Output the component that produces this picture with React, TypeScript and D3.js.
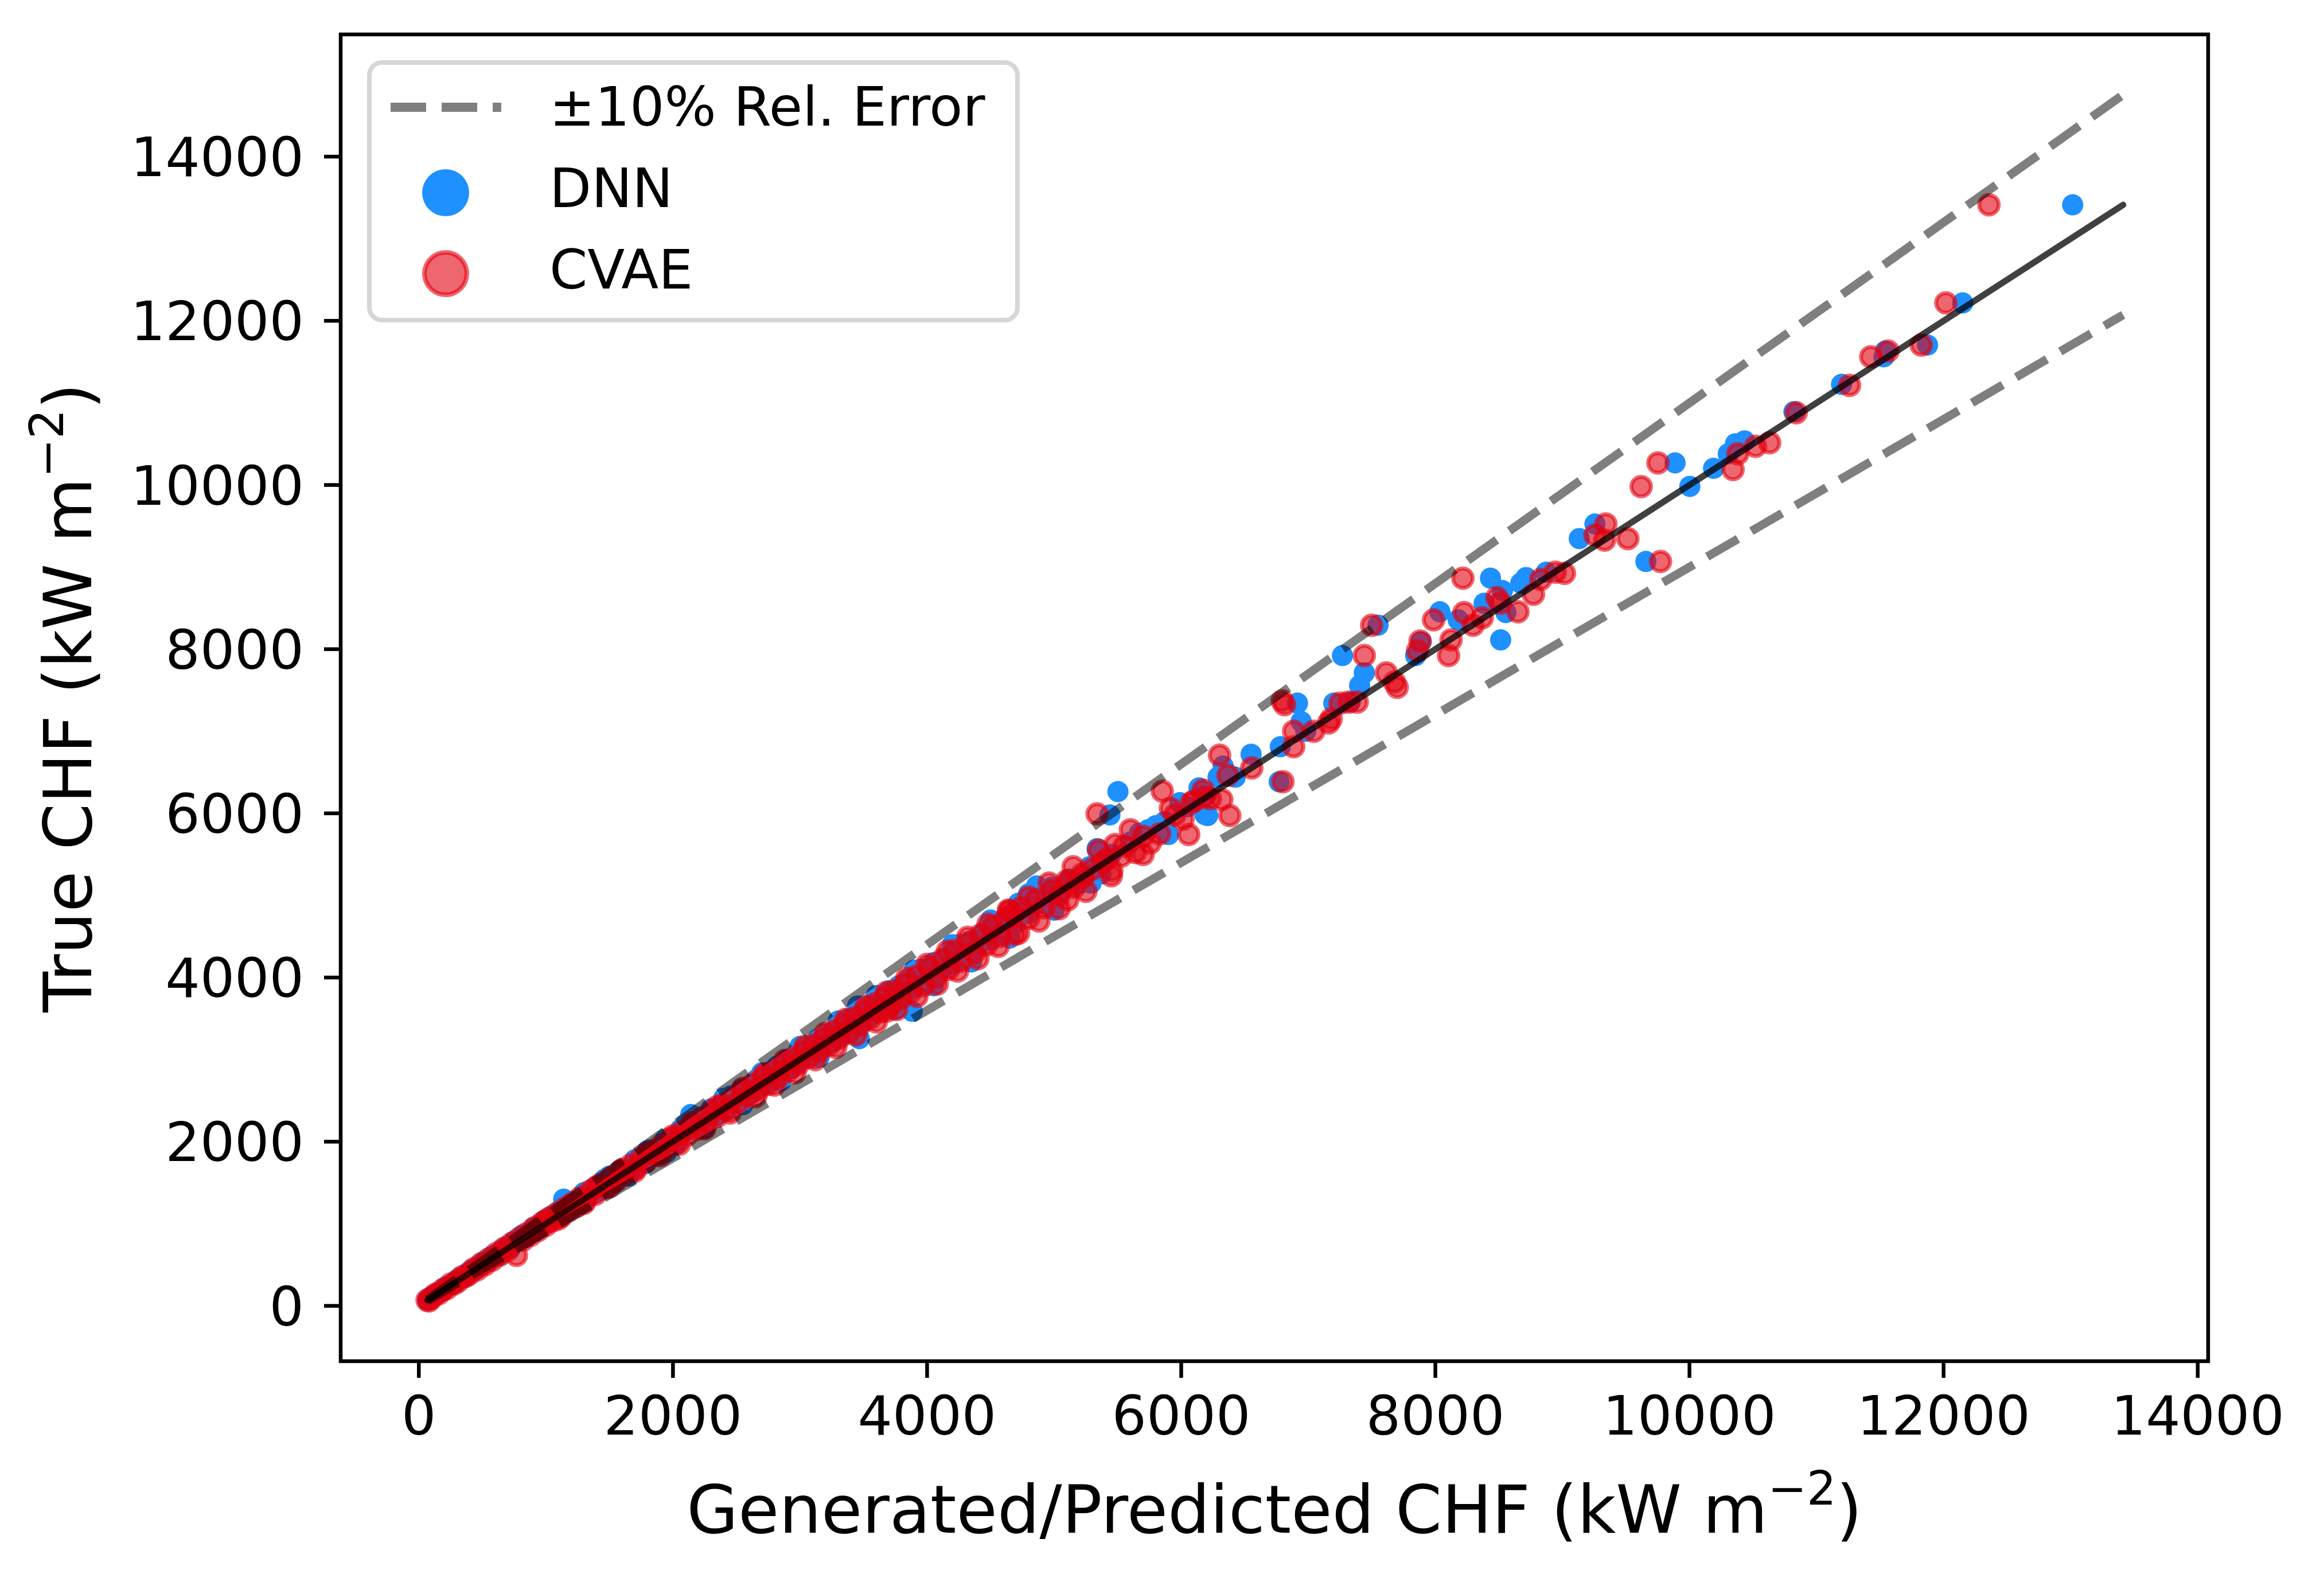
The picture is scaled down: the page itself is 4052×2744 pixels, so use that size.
import React from "react";
import * as d3 from "d3";

// ---------- data ----------
const xTicks = [0, 2000, 4000, 6000, 8000, 10000, 12000, 14000];
const yTicks = [0, 2000, 4000, 6000, 8000, 10000, 12000, 14000];
const refLineEnds = [68, 13413];
const relErrorFactors = [0.9, 1.1];
const legendLabels = ["±10% Rel. Error", "DNN", "CVAE"];

// [predicted, true]
const dnnBand: [number, number][] = [
  [70, 75], [95, 110], [120, 130], [150, 160], [180, 175], [210, 230], [240, 250], [270, 265], [300, 320], [330, 345],
  [360, 350], [390, 410], [420, 440], [450, 445], [480, 500], [510, 540], [540, 530], [570, 600], [600, 620], [630, 610],
  [660, 690], [690, 720], [720, 700], [750, 790], [780, 800], [810, 860], [840, 830], [870, 900], [900, 950], [930, 920],
  [960, 1000], [990, 1040], [1020, 1010], [1050, 1100], [1080, 1090], [1110, 1160], [1140, 1300], [1170, 1150], [1200, 1260], [1230, 1280],
  [1260, 1240], [1300, 1380], [1340, 1330], [1380, 1440], [1420, 1400], [1460, 1540], [1500, 1520], [1540, 1500], [1580, 1650], [1620, 1640],
  [1660, 1620], [1700, 1780], [1740, 1760], [1780, 1730], [1820, 1900], [1860, 1880], [1900, 1850], [1940, 2030], [1980, 2000], [2020, 1960],
  [2060, 2150], [2100, 2120], [2140, 2330], [2180, 2160], [2220, 2300], [2260, 2240], [2300, 2400], [2340, 2320], [2380, 2460], [2420, 2380],
  [2460, 2560], [2500, 2480], [2540, 2640], [2580, 2560], [2620, 2600], [2660, 2760], [2700, 2680], [2740, 2840], [2780, 2750], [2820, 2920],
  [2860, 2830], [2900, 3000], [2940, 2900], [2980, 3080], [3020, 3000], [3060, 3160], [3100, 3060], [3140, 3250], [3180, 3150], [3220, 3320],
  [3260, 3220], [3300, 3400], [3340, 3300], [3380, 3500], [3420, 3380], [3460, 3600], [3500, 3460], [3540, 3660], [3580, 3560], [3620, 3760],
  [3660, 3620], [3700, 3840], [3740, 3700], [3780, 3900], [3820, 3800], [3860, 3980], [3900, 3880], [3950, 4100], [4000, 3960], [4050, 4180],
  [4100, 4080], [4150, 4250], [4200, 4160], [4250, 4400], [4300, 4280], [4350, 4450], [4400, 4380], [4450, 4560], [4500, 4460], [4550, 4650],
  [4600, 4580], [4650, 4760], [4700, 4660], [4750, 4850], [4800, 4780], [4860, 4980], [4920, 4900], [4980, 5100], [5050, 5040], [5120, 5200],
  [5200, 5150], [5280, 5350], [5450, 5500], [5600, 5650], [5800, 5850], [6050, 6080],
  [1500, 1580], [1800, 1890], [2100, 2210], [2400, 2530], [2700, 2840], [3000, 3160], [3300, 3470], [3600, 3780],
  [3900, 4090], [4200, 4400], [4500, 4700], [4800, 5020], [1650, 1580], [1950, 1870], [2250, 2160], [2550, 2450],
  [2850, 2740], [3150, 3030], [3450, 3320], [3750, 3610], [4050, 3900], [4350, 4190], [4650, 4480], [5000, 4820],
];

const dnnSpread: [number, number][] = [
  [3883, 3588], [3467, 3255], [3453, 3653], [4718, 4904], [4862, 5116], [5290, 5150], [5368, 5260], [5338, 5570],
  [5502, 6265], [5439, 5980], [5670, 5758], [5740, 5800], [5870, 5900], [5900, 5742], [5990, 6130], [6140, 6310],
  [6187, 5985], [6200, 6230], [6208, 5973], [6290, 6441], [6330, 6576], [6425, 6441], [6550, 6720], [6771, 6385],
  [6780, 6811], [6915, 7342], [6944, 7118], [6980, 7000], [7201, 7342], [7330, 7355], [7269, 7922], [7404, 7558],
  [7441, 7712], [7549, 8292], [7845, 7922], [7888, 8089], [8036, 8455], [8180, 8357], [8384, 8558], [8434, 8865],
  [8514, 8113], [8528, 8714], [8555, 8446], [8672, 8804], [8714, 8872], [8872, 8937], [9133, 9347], [9256, 9525],
  [9657, 9068], [9887, 10269], [10003, 9983], [10190, 10203], [10305, 10381], [10362, 10502], [10433, 10537], [10822, 10893],
  [11197, 11226], [11530, 11562], [11540, 11630], [11874, 11705], [12150, 12218], [13016, 13413],
];

const cvaeBand: [number, number][] = [
  [65, 70], [80, 60], [100, 95], [130, 140], [160, 150], [190, 200], [220, 210], [250, 265], [280, 270], [310, 300],
  [340, 355], [370, 360], [400, 390], [430, 450], [460, 440], [490, 510], [520, 500], [550, 570], [580, 560], [610, 640],
  [640, 620], [670, 700], [700, 680], [730, 760], [768, 615], [790, 820], [820, 800], [850, 880], [880, 860], [910, 950],
  [940, 920], [970, 1010], [1000, 980], [1030, 1070], [1060, 1040], [1090, 1130], [1120, 1090], [1150, 1190], [1180, 1160], [1210, 1250],
  [1240, 1210], [1270, 1320], [1310, 1290], [1350, 1400], [1390, 1360], [1430, 1480], [1470, 1440], [1510, 1560], [1550, 1520], [1590, 1640],
  [1630, 1600], [1670, 1720], [1710, 1680], [1750, 1800], [1790, 1760], [1830, 1880], [1870, 1840], [1910, 1960], [1950, 1920], [1990, 2040],
  [2030, 2000], [2070, 2120], [2110, 2080], [2150, 2200], [2190, 2150], [2230, 2290], [2270, 2240], [2310, 2370], [2350, 2310], [2390, 2450],
  [2430, 2390], [2470, 2530], [2510, 2470], [2550, 2610], [2590, 2550], [2630, 2700], [2670, 2630], [2710, 2780], [2750, 2700], [2790, 2860],
  [2830, 2790], [2870, 2940], [2910, 2870], [2950, 3020], [2990, 2950], [3030, 3100], [3070, 3030], [3110, 3180], [3150, 3100], [3190, 3260],
  [3230, 3180], [3270, 3350], [3310, 3260], [3350, 3430], [3390, 3340], [3430, 3510], [3470, 3420], [3510, 3590], [3550, 3500], [3590, 3680],
  [3630, 3580], [3670, 3760], [3710, 3660], [3750, 3840], [3790, 3740], [3830, 3920], [3870, 3820], [3920, 4020], [3970, 3900], [4020, 4120],
  [4070, 4000], [4120, 4220], [4170, 4100], [4220, 4330], [4270, 4200], [4320, 4420], [4370, 4300], [4420, 4520], [4470, 4400], [4520, 4620],
  [4570, 4500], [4620, 4720], [4680, 4780], [4740, 4850], [4800, 4720], [4860, 4950], [4920, 4850], [4980, 5060], [5040, 5000], [5100, 5180],
  [5160, 5100], [5220, 5260], [5300, 5320], [5380, 5400], [5420, 5450], [5550, 5600], [5700, 5720], [5950, 5980], [6100, 6150],
  [1000, 1040], [1100, 1060], [1200, 1230], [1300, 1250], [1400, 1450], [1500, 1450], [1600, 1660], [1700, 1640],
  [1800, 1860], [1900, 1830], [2000, 2070], [2050, 1970], [2150, 2230], [2250, 2160], [2350, 2430], [2450, 2350],
  [2550, 2650], [2650, 2550], [2720, 2820], [2800, 2690], [2880, 2990], [2960, 2840], [3040, 3160], [3120, 3000],
  [3200, 3320], [3280, 3150], [3360, 3490], [3440, 3300], [3520, 3650], [3600, 3460], [3680, 3820], [3760, 3610],
  [3840, 3990], [3920, 3770], [4000, 4160], [4080, 3920], [4160, 4320], [4240, 4080], [4320, 4490], [4400, 4230],
  [4480, 4650], [4560, 4380], [4640, 4820], [4720, 4540], [4800, 4980], [4880, 4690], [4960, 5150], [5040, 4840],
  [5150, 5350], [5250, 5050], [5350, 5550], [5450, 5240], [5600, 5800], [5700, 5500],
];

const cvaeSpread: [number, number][] = [
  [3683, 3590], [4646, 4813], [4690, 4523], [5107, 4946], [5120, 5150], [5230, 5220], [5454, 5302], [5480, 5620],
  [5530, 5480], [5338, 5994], [5639, 5523], [5756, 5637], [5830, 5750], [5851, 6270], [5915, 6061], [6014, 5927],
  [6059, 5742], [6080, 6130], [6172, 6283], [6180, 6200], [6230, 6180], [6302, 6709], [6319, 6168], [6368, 6464],
  [6382, 5973], [6555, 6553], [6800, 6385], [6795, 7370], [6813, 7324], [6885, 6811], [6885, 7000], [7043, 7000],
  [7160, 7101], [7180, 7150], [7250, 7342], [7318, 7355], [7385, 7355], [7441, 7922], [7499, 8292], [7614, 7712],
  [7678, 7600], [7700, 7535], [7860, 7980], [7880, 8100], [7986, 8357], [8104, 7922], [8124, 8113], [8217, 8865],
  [8226, 8446], [8297, 8292], [8369, 8383], [8484, 8628], [8510, 8560], [8650, 8455], [8772, 8669], [8830, 8851],
  [8944, 8937], [9016, 8924], [9256, 9391], [9332, 9329], [9342, 9525], [9515, 9347], [9620, 9980], [9752, 10269],
  [9772, 9068], [10343, 10189], [10380, 10381], [10520, 10472], [10631, 10515], [10840, 10880], [11260, 11214],
  [11427, 11562], [11563, 11631], [11824, 11705], [12018, 12218], [12357, 13413],
];

// ---------- layout ----------
const W = 4052;
const H = 2744;
const plot = { left: 594, right: 3850, top: 60, bottom: 2373 };
const FONT = "DejaVu Sans";
const DNN_COLOR = "#1e90ff";
const CVAE_COLOR = "#e2000f";

export default function App() {
  const x = d3.scaleLinear().domain([-615, 14082]).range([plot.left, plot.right]);
  const y = d3.scaleLinear().domain([-674, 15489]).range([plot.bottom, plot.top]);
  const line = d3
    .line<[number, number]>()
    .x((d) => x(d[0]))
    .y((d) => y(d[1]));

  const dnn = [...dnnBand, ...dnnSpread];
  const cvae = [...cvaeBand, ...cvaeSpread];

  const tickFs = 95;
  const labelFs = 116;
  const supShift = labelFs * 0.42;
  const axisW = 6.5;

  const refLine: [number, number][] = refLineEnds.map((v) => [v, v]);

  const legend = { x: 644, y: 109, w: 1130, h: 449 };

  return (
    <svg
      width={W}
      height={H}
      viewBox={`0 0 ${W} ${H}`}
      style={{ position: "absolute", left: 0, top: 0, background: "#fff" }}
      fontFamily={FONT}
    >
      <rect x={0} y={0} width={W} height={H} fill="#fff" />

      {/* scatter */}
      <g>
        {dnn.map((d, i) => (
          <circle key={"d" + i} cx={x(d[0])} cy={y(d[1])} r={18.5} fill={DNN_COLOR} />
        ))}
      </g>
      <g>
        {cvae.map((d, i) => (
          <circle
            key={"c" + i}
            cx={x(d[0])}
            cy={y(d[1])}
            r={17}
            fill={CVAE_COLOR}
            fillOpacity={0.6}
            stroke={CVAE_COLOR}
            strokeOpacity={0.6}
            strokeWidth={7}
          />
        ))}
      </g>

      {/* reference lines */}
      <path d={line(refLine) || ""} fill="none" stroke="#000" strokeOpacity={0.75} strokeWidth={11} strokeLinecap="round" />
      {relErrorFactors.map((f, i) => (
        <path
          key={"r" + i}
          d={line(refLineEnds.map((v) => [v, v * f] as [number, number])) || ""}
          fill="none"
          stroke="#000"
          strokeOpacity={0.5}
          strokeWidth={15}
          strokeDasharray="62 27"
        />
      ))}

      {/* spines */}
      <rect
        x={plot.left}
        y={plot.top}
        width={plot.right - plot.left}
        height={plot.bottom - plot.top}
        fill="none"
        stroke="#000"
        strokeWidth={axisW}
      />

      {/* x ticks */}
      {xTicks.map((t) => (
        <g key={"xt" + t}>
          <line x1={x(t)} x2={x(t)} y1={plot.bottom} y2={plot.bottom + 29} stroke="#000" strokeWidth={axisW} />
          <text x={x(t)} y={2501} fontSize={tickFs} textAnchor="middle" fill="#000">
            {t}
          </text>
        </g>
      ))}
      {/* y ticks */}
      {yTicks.map((t) => (
        <g key={"yt" + t}>
          <line x1={plot.left - 29} x2={plot.left} y1={y(t)} y2={y(t)} stroke="#000" strokeWidth={axisW} />
          <text x={530} y={y(t) + 34} fontSize={tickFs} textAnchor="end" fill="#000">
            {t}
          </text>
        </g>
      ))}

      {/* axis labels */}
      <text x={(plot.left + plot.right) / 2} y={2672} fontSize={labelFs} textAnchor="middle" fill="#000">
        Generated/Predicted CHF (kW m
        <tspan dy={-supShift} fontSize={labelFs * 0.7}>
          −2
        </tspan>
        <tspan dy={supShift}>)</tspan>
      </text>
      <text
        transform={`translate(159, ${(plot.top + plot.bottom) / 2}) rotate(-90)`}
        x={0}
        y={0}
        fontSize={labelFs}
        textAnchor="middle"
        fill="#000"
      >
        True CHF (kW m
        <tspan dy={-supShift} fontSize={labelFs * 0.7}>
          −2
        </tspan>
        <tspan dy={supShift}>)</tspan>
      </text>

      {/* legend */}
      <g>
        <rect
          x={legend.x}
          y={legend.y}
          width={legend.w}
          height={legend.h}
          rx={22}
          ry={22}
          fill="#fff"
          fillOpacity={0.8}
          stroke="#d6d6d6"
          strokeWidth={8}
        />
        <line x1={681} x2={874} y1={187} y2={187} stroke="#000" strokeOpacity={0.5} strokeWidth={16} strokeDasharray="62 27" />
        <circle cx={777} cy={336} r={41} fill={DNN_COLOR} />
        <circle
          cx={777}
          cy={477}
          r={37}
          fill={CVAE_COLOR}
          fillOpacity={0.6}
          stroke={CVAE_COLOR}
          strokeOpacity={0.6}
          strokeWidth={8}
        />
        {legendLabels.map((l, i) => (
          <text key={l} x={958} y={219 + i * 142} fontSize={tickFs} fill="#000">
            {l}
          </text>
        ))}
      </g>
    </svg>
  );
}
